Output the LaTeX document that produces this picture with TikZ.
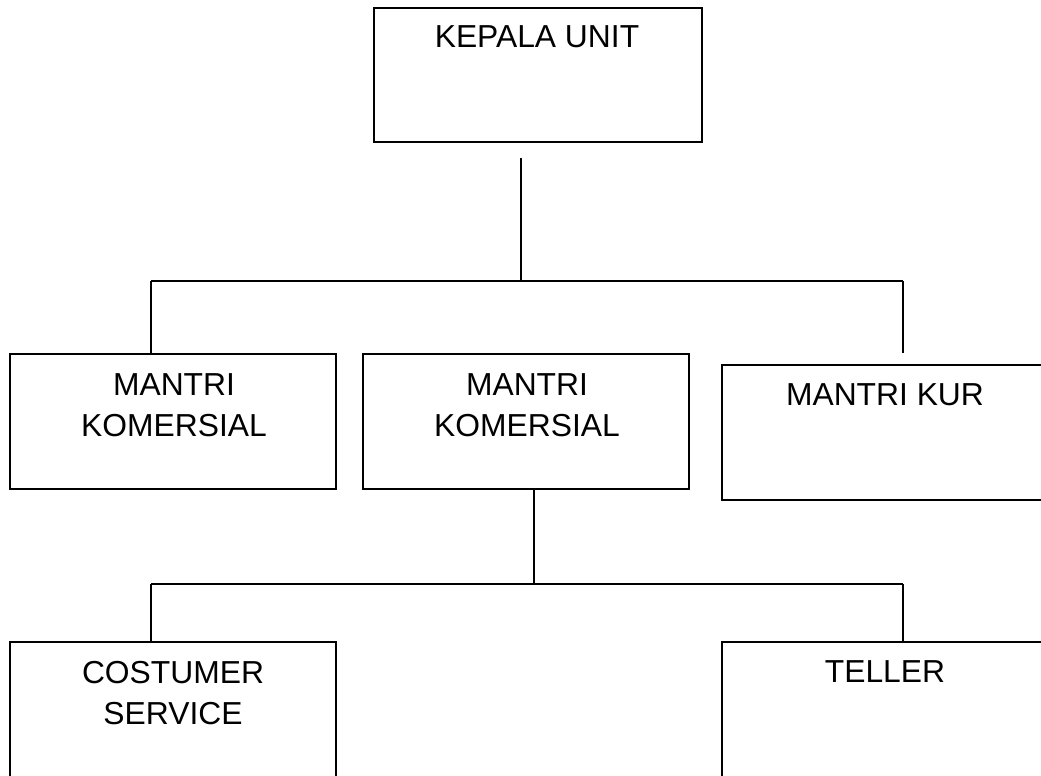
\documentclass[tikz,border=0pt]{standalone}
\usepackage{fontspec}
\setmainfont{Liberation Sans}
\begin{document}
\begin{tikzpicture}[x=1pt,y=-1pt,
  box/.style={draw,line width=1.6pt,inner sep=0pt,minimum width=326pt,minimum height=135pt},
  label/.style={anchor=north,inner sep=0pt,align=center,font=\fontsize{31.8}{41}\selectfont},
  link/.style={line width=1.5pt}]
  \useasboundingbox (0,0) rectangle (1041,776);
  \clip (0,0) rectangle (1041,776);

  % boxes
  \node[box,minimum width=328pt,minimum height=134pt] (ku) at (538,75) {};
  \node[box] (mk1) at (173,421.5) {};
  \node[box] (mk2) at (526,421.5) {};
  \node[box] (kur) at (885,432.5) {};
  \node[box] (cs)  at (173,709.5) {};
  \node[box] (tl)  at (885,709.5) {};

  % titles
  \node[label] (kuT)  at (537,25)  {KEPALA UNIT};
  \node[label] (mk1T) at (174,373) {MANTRI\\KOMERSIAL};
  \node[label] (mk2T) at (527,373) {MANTRI\\KOMERSIAL};
  \node[label] (kurT) at (885,383) {MANTRI KUR};
  \node[label] (csT)  at (173,661) {COSTUMER\\SERVICE};
  \node[label] (tlT)  at (885,660) {TELLER};

  % upper level connectors
  \coordinate (kuStem) at (521,158);
  \coordinate (busA)   at (521,281);
  \coordinate (busAL)  at (151,281);
  \coordinate (busAR)  at (903,281);
  \coordinate (kurStem) at (903,353);
  \draw[link] (kuStem) -- (busA);
  \draw[link] (busAL) -- (busAR);
  \draw[link] (busAL) -- (busAL |- mk1.north);
  \draw[link] (busAR) -- (kurStem);

  % lower level connectors
  \coordinate (busB)  at (534,584);
  \coordinate (busBL) at (151,584);
  \coordinate (busBR) at (903,584);
  \draw[link] (busB |- mk2.south) -- (busB);
  \draw[link] (busBL) -- (busBR);
  \draw[link] (busBL) -- (busBL |- cs.north);
  \draw[link] (busBR) -- (busBR |- tl.north);
\end{tikzpicture}
\end{document}
